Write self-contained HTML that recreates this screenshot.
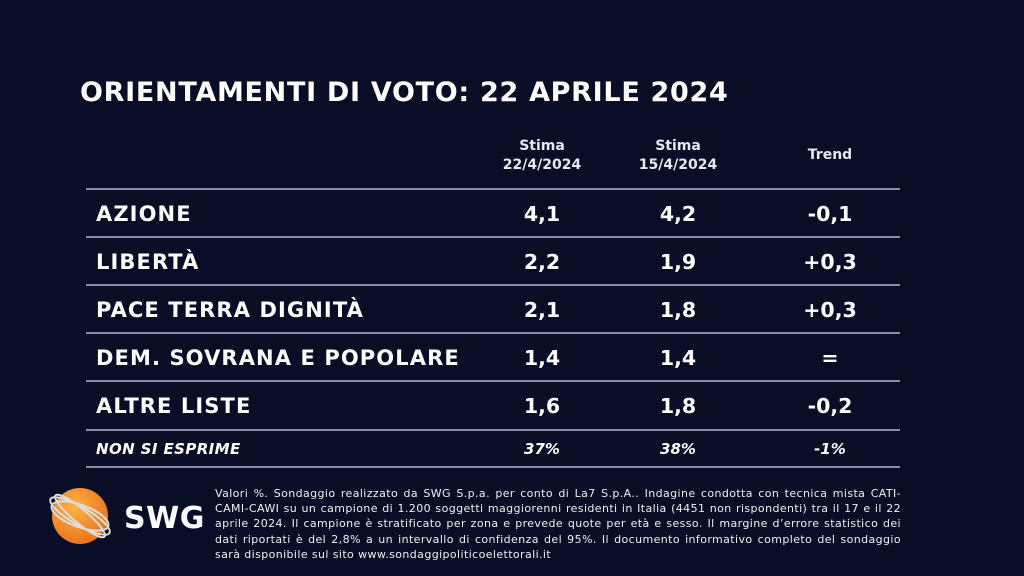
<!DOCTYPE html>
<html><head><meta charset="utf-8"><style>
body{margin:0;width:1024px;height:576px;background:#0a0d26;overflow:hidden;position:relative;font-family:"DejaVu Sans",Verdana,sans-serif;color:#fff}
.t{position:absolute;left:80px;top:77px;font-size:27px;font-weight:bold;white-space:nowrap;letter-spacing:0.7px}
.h{position:absolute;font-size:14px;font-weight:bold;text-align:center;line-height:19px;color:#e8e8f0}
.l{position:absolute;left:86px;width:814px;height:1.5px;background:#8a8ca8}
.r{position:absolute;left:0;width:1024px;height:30px;font-size:20.5px;font-weight:bold;line-height:30px}
.r span{position:absolute;white-space:nowrap}
.r span.nm{letter-spacing:1.1px;font-size:21px}
.c1{left:482px;width:120px;text-align:center}
.c2{left:618px;width:120px;text-align:center}
.c3{left:770px;width:120px;text-align:center}
.n{font-size:15px;font-style:italic}
.n span.nm{letter-spacing:0.4px;font-size:15px}
.f{position:absolute;left:215px;top:486px;width:686px;font-size:11px;letter-spacing:0.4px;line-height:15.2px;text-align:justify;color:#f0f0f0}
</style></head><body>
<div class="t">ORIENTAMENTI DI VOTO: 22 APRILE 2024</div>
<div class="h" style="left:482px;width:120px;top:137px">Stima<br>22/4/2024</div>
<div class="h" style="left:618px;width:120px;top:137px">Stima<br>15/4/2024</div>
<div class="h" style="left:770px;width:120px;top:146px">Trend</div>
<div class="l" style="top:188px"></div>
<div class="l" style="top:236px"></div>
<div class="l" style="top:284px"></div>
<div class="l" style="top:332px"></div>
<div class="l" style="top:380px"></div>
<div class="l" style="top:429px"></div>
<div class="l" style="top:466px"></div>
<div class="r" style="top:199px"><span class="nm" style="left:96px">AZIONE</span><span class="c1">4,1</span><span class="c2">4,2</span><span class="c3">-0,1</span></div>
<div class="r" style="top:247px"><span class="nm" style="left:96px">LIBERTÀ</span><span class="c1">2,2</span><span class="c2">1,9</span><span class="c3">+0,3</span></div>
<div class="r" style="top:295px"><span class="nm" style="left:96px">PACE TERRA DIGNITÀ</span><span class="c1">2,1</span><span class="c2">1,8</span><span class="c3">+0,3</span></div>
<div class="r" style="top:343px"><span class="nm" style="left:96px">DEM. SOVRANA E POPOLARE</span><span class="c1">1,4</span><span class="c2">1,4</span><span class="c3">=</span></div>
<div class="r" style="top:391px"><span class="nm" style="left:96px">ALTRE LISTE</span><span class="c1">1,6</span><span class="c2">1,8</span><span class="c3">-0,2</span></div>
<div class="r n" style="top:434px"><span class="nm" style="left:96px">NON SI ESPRIME</span><span class="c1">37%</span><span class="c2">38%</span><span class="c3">-1%</span></div>
<svg style="position:absolute;left:40px;top:486px" width="84" height="64" viewBox="0 0 84 64">
<defs><radialGradient id="g" cx="0.4" cy="0.35" r="0.7"><stop offset="0" stop-color="#ffb347"/><stop offset="1" stop-color="#e8701a"/></radialGradient></defs>
<circle cx="40" cy="30" r="28" fill="url(#g)"/>
<g fill="none" stroke="#ddd" stroke-width="2">
<ellipse cx="40" cy="30" rx="34" ry="9" transform="rotate(30 40 30)"/>
<ellipse cx="40" cy="30" rx="32" ry="7" transform="rotate(40 40 30)"/>
<ellipse cx="40" cy="30" rx="30" ry="11" transform="rotate(20 40 30)"/>
</g></svg>
<div style="position:absolute;left:124px;top:501px;font-size:30px;font-weight:bold;letter-spacing:0.5px">SWG</div>
<div class="f">Valori %. Sondaggio realizzato da SWG S.p.a. per conto di La7 S.p.A.. Indagine condotta con tecnica mista CATI-CAMI-CAWI su un campione di 1.200 soggetti maggiorenni residenti in Italia (4451 non rispondenti) tra il 17 e il 22 aprile 2024. Il campione è stratificato per zona e prevede quote per età e sesso. Il margine d’errore statistico dei dati riportati è del 2,8% a un intervallo di confidenza del 95%. Il documento informativo completo del sondaggio sarà disponibile sul sito www.sondaggipoliticoelettorali.it</div>
</body></html>
